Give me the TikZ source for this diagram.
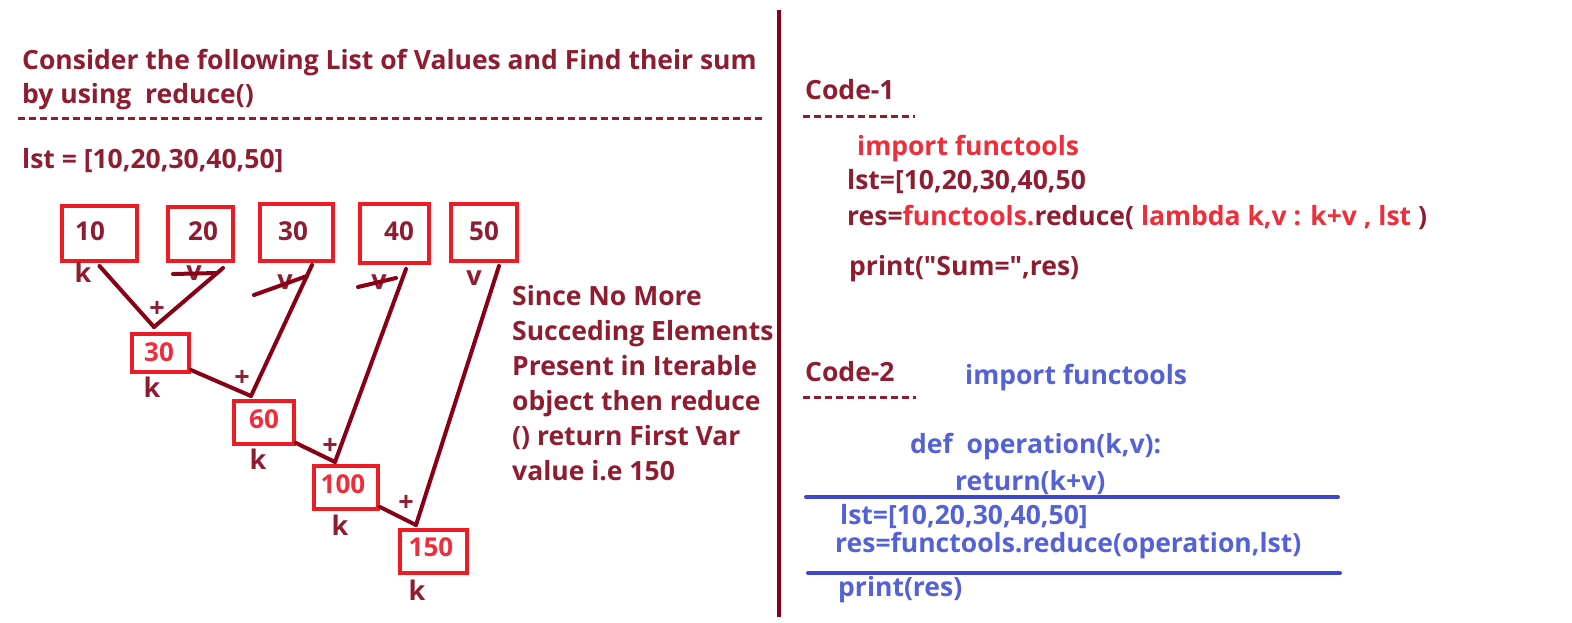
\documentclass[tikz,border=0pt]{standalone}
\usepackage{fontspec}
\newfontfamily\mf{Open Sans}
\definecolor{dred}{HTML}{8F1D32}
\definecolor{lred}{HTML}{880015}
\definecolor{bred}{HTML}{ED1C24}
\definecolor{tred}{HTML}{EE2E3B}
\definecolor{tblue}{HTML}{5462D6}
\definecolor{lblue}{HTML}{3F48CC}
\tikzset{
  txt/.style={font=\mf\bfseries\fontsize{26.5}{32}\selectfont, text=dred, inner sep=0pt, anchor=base west},
  ctxt/.style={font=\mf\bfseries\fontsize{26.5}{30}\selectfont, text=dred, inner sep=0pt, anchor=base west},
  btxt/.style={ctxt, text=tblue},
  rtxt/.style={ctxt, text=tred},
  numbox/.style={draw=bred, line width=4pt, inner sep=0pt},
  num/.style={font=\mf\bfseries\fontsize{26}{30}\selectfont, text=dred, inner sep=0pt},
  rnum/.style={num, text=tred},
  kv/.style={font=\mf\bfseries\fontsize{27}{30}\selectfont, text=dred, inner sep=0pt},
  plus/.style={font=\mf\bfseries\fontsize{27}{30}\selectfont, text=dred, inner sep=0pt},
  conn/.style={draw=lred, line width=4pt, line cap=round},
  sep/.style={draw=dred, line width=3pt, dash pattern=on 7pt off 4pt},
  bline/.style={draw=lblue, line width=4pt, line cap=round},
}
\begin{document}
\begin{tikzpicture}[x=1pt,y=-1pt]
\useasboundingbox (0,0) rectangle (1572,622);
\fill[white] (0,0) rectangle (1572,622);
% divider
\draw[draw=lred, line width=4pt] (779,10) -- (779,617);
% left header
\node[txt] (t1) at (22,69) {Consider the following List of Values and Find their sum};
\node[txt] (t2) at (22,103) {by using\ \ reduce()};
\draw[sep] (18,118) -- (764,118);
\node[txt] (lst) at (22,168) {lst = [10,20,30,40,50]};
% top boxes
\node[numbox, minimum width=75pt, minimum height=55pt] (b10) at (99.5,233.5) {};
\node[numbox, minimum width=65pt, minimum height=54pt] (b20) at (200.5,234) {};
\node[numbox, minimum width=73pt, minimum height=57pt] (b30) at (296.5,232.5) {};
\node[numbox, minimum width=69pt, minimum height=59pt] (b40) at (394.5,233.5) {};
\node[numbox, minimum width=66pt, minimum height=57pt] (b50) at (484,232.5) {};
\node[num] (n10) at (90,231) {10};
\node[num] (n20) at (203,231) {20};
\node[num] (n30) at (293,231) {30};
\node[num] (n40) at (399,231) {40};
\node[num] (n50) at (484,231) {50};
% result boxes
\node[numbox, minimum width=57pt, minimum height=38pt] (r30) at (160.5,353) {};
\node[numbox, minimum width=60pt, minimum height=43pt] (r60) at (264,422.5) {};
\node[numbox, minimum width=64pt, minimum height=43pt] (r100) at (346,487.5) {};
\node[numbox, minimum width=67pt, minimum height=43pt] (r150) at (433.5,551.5) {};
\node[rnum] (m30) at (159,352) {30};
\node[rnum] (m60) at (264,419) {60};
\node[rnum] (m100) at (343,484) {100};
\node[rnum] (m150) at (431,547) {150};
% k / v labels
\node[kv] (k1) at (83,272) {k};
\node[kv] (v2) at (194,273) {v};
\node[kv] (v3) at (285,282) {v};
\node[kv] (v4) at (379,282) {v};
\node[kv] (v5) at (474,278) {v};
\node[kv] (k2) at (152,387) {k};
\node[kv] (k3) at (258,459) {k};
\node[kv] (k4) at (340,525) {k};
\node[kv] (k5) at (417,590) {k};
% plus signs
\node[plus] (p1) at (157,309) {+};
\node[plus] (p2) at (242,378) {+};
\node[plus] (p3) at (330,446) {+};
\node[plus] (p4) at (406,503) {+};
% junction coordinates
\coordinate (j1) at (154,327);
\coordinate (j2) at (251,396);
\coordinate (j3) at (335,462);
\coordinate (j4) at (416,525);
% connectors
\draw[conn] ([yshift=-3pt]b10.south) -- (j1);
\draw[conn] ([xshift=22.5pt,yshift=-5pt]b20.south) -- (j1);
\draw[conn] ([yshift=4pt]r30.south east) -- (j2);
\draw[conn] ([xshift=15.5pt,yshift=-2pt]b30.south) -- (j2);
\draw[conn] ([yshift=3pt]r60.south east) -- (j3);
\draw[conn] ([xshift=11.5pt,yshift=-4pt]b40.south) -- (j3);
\draw[conn] ([yshift=4pt]r100.south east) -- (j4);
\draw[conn] ([xshift=15pt,yshift=-3pt]b50.south) -- (j4);
% strike-outs
\draw[conn] (173,274) -- (217,273);
\draw[conn] (254,295) -- (307,276);
\draw[conn] (358,287) -- (396,278);
% explanation
\node[txt] (e1) at (512,305) {Since No More};
\node[txt] (e2) at (512,340) {Succeding Elements};
\node[txt] (e3) at (512,375) {Present in Iterable};
\node[txt] (e4) at (512,410) {object then reduce};
\node[txt] (e5) at (512,445) {() return First Var};
\node[txt] (e6) at (512,480) {value i.e 150};
% Code-1
\node[ctxt] (c1) at (805,99) {Code-1};
\draw[sep] (803,116) -- (915,116);
\node[rtxt] (c1a) at (857,155) {import functools};
\node[ctxt] (c1b) at (847,189) {lst=[10,20,30,40,50};
\node[ctxt] (c1c) at (847,225) {res=\textcolor{tred}{functools.}reduce( \textcolor{tred}{lambda k,v : k+v , lst} )};
\node[ctxt] (c1d) at (849,275) {print("Sum=",res)};
% Code-2
\node[ctxt] (c2) at (805,381) {Code-2};
\draw[sep] (803,397) -- (916,397);
\node[btxt] (c2a) at (965,384) {import functools};
\node[btxt] (c2b) at (910,453) {def\ \ operation(k,v):};
\node[btxt] (c2c) at (955,490) {return(k+v)};
\draw[bline] (806,497) -- (1338,497);
\node[btxt] (c2d) at (840,524) {lst=[10,20,30,40,50]};
\node[btxt] (c2e) at (835,552) {res=functools.reduce(operation,lst)};
\draw[bline] (808,573) -- (1340,573);
\node[btxt] (c2f) at (838,596) {print(res)};
\end{tikzpicture}
\end{document}
